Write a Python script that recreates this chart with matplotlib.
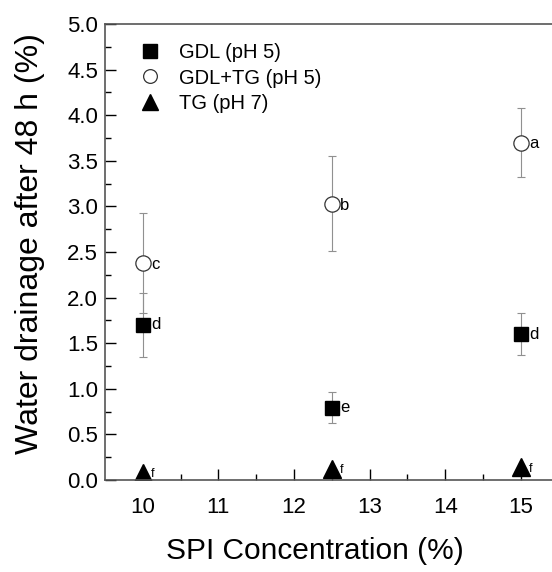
import matplotlib.pyplot as plt

plt.rcParams['font.family'] = ['Liberation Sans', 'DejaVu Sans']

# Data
spi = [10, 12.5, 15]
gdl = [1.70, 0.79, 1.60]
gdl_err = [0.35, 0.17, 0.23]
gdl_tg = [2.38, 3.03, 3.70]
gdl_tg_err = [0.55, 0.52, 0.38]
tg = [0.08, 0.12, 0.14]
tg_err = [0.0, 0.0, 0.0]
gdl_letters = ['d', 'e', 'd']
gdl_tg_letters = ['c', 'b', 'a']
tg_letters = ['f', 'f', 'f']

fig = plt.figure(figsize=(5.52, 5.72), dpi=100)
ax = fig.add_axes([0.190, 0.161, 0.822, 0.797])

ekw = dict(fmt='none', ecolor='#909090', elinewidth=0.8, capsize=3, capthick=0.8)
ax.errorbar(spi, gdl, yerr=gdl_err, **ekw)
ax.errorbar(spi, gdl_tg, yerr=gdl_tg_err, **ekw)
ax.errorbar(spi, tg, yerr=tg_err, **ekw)

ax.plot(spi, gdl, ls='none', marker='s', ms=10.5, mfc='black', mec='black', label='GDL (pH 5)')
ax.plot(spi, gdl_tg, ls='none', marker='o', ms=11, mfc='white', mec='#333333', mew=0.9,
        label='GDL+TG (pH 5)')
ax.plot(spi, tg, ls='none', marker='^', ms=12.5, mfc='black', mec='black', label='TG (pH 7)')

for x, y, s in zip(spi, gdl, gdl_letters):
    ax.annotate(s, (x, y), xytext=(6, 0), textcoords='offset points', va='center', fontsize=12)
for x, y, s in zip(spi, gdl_tg, gdl_tg_letters):
    ax.annotate(s, (x, y), xytext=(6, -1), textcoords='offset points', va='center', fontsize=12)
for x, y, s in zip(spi, tg, tg_letters):
    ax.annotate(s, (x, y), xytext=(6, -1), textcoords='offset points', va='center', fontsize=9)

ax.set_xlim(9.5, 15.5)
ax.set_ylim(0, 5.0)
ax.set_xticks([10, 11, 12, 13, 14, 15])
ax.set_xticks([10.5, 11.5, 12.5, 13.5, 14.5], minor=True)
ax.set_yticks([i * 0.5 for i in range(11)])
ax.set_yticks([0.25 + i * 0.5 for i in range(10)], minor=True)
ax.set_yticklabels(['%.1f' % (i * 0.5) for i in range(11)])
ax.tick_params(which='major', direction='in', length=8, width=1, labelsize=16, pad=5)
ax.tick_params(which='minor', direction='in', length=4, width=1)
ax.tick_params(axis='x', pad=12)
for sp in ax.spines.values():
    sp.set_color('#555555')
    sp.set_linewidth(1.2)

ax.set_xlabel('SPI Concentration (%)', fontsize=21.5)
ax.set_ylabel('Water drainage after 48 h (%)', fontsize=23)
ax.xaxis.set_label_coords(0.463, -0.125)
ax.yaxis.set_label_coords(-0.132, 0.518)

ax.legend(loc='upper left', frameon=False, fontsize=14.5, handletextpad=0.75,
          labelspacing=0.3, borderaxespad=0.0, handlelength=1.4, markerscale=0.9,
          bbox_to_anchor=(0.05, 0.975))

fig.savefig('out.png', dpi=100)
